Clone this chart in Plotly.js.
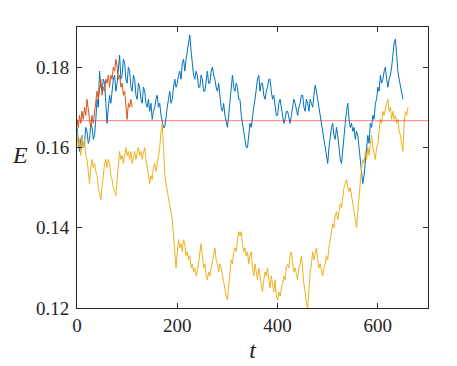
<!doctype html>
<html lang="en">
    <head>
        <meta charset="UTF-8" />
        <title>E vs t</title>
        <script src="https://cdn.plot.ly/plotly-3.0.1.min.js"></script>
        <style>
            body {
                margin: 0;
                background: white;
            }
        </style>
    </head>
    <body>
        <div id="chart"></div>

        <script>
            const dt = 2.5;

            const blueE = [
                0.165, 0.161, 0.159, 0.162, 0.163, 0.16, 0.161, 0.165, 0.164, 0.161,
                0.162, 0.166, 0.165, 0.162, 0.163, 0.167, 0.172, 0.17, 0.179, 0.175,
                0.174, 0.177, 0.176, 0.171, 0.166, 0.17, 0.173, 0.171, 0.175, 0.177,
                0.178, 0.174, 0.176, 0.18, 0.183, 0.177, 0.178, 0.182, 0.181, 0.177,
                0.176, 0.18, 0.179, 0.175, 0.174, 0.178, 0.177, 0.173, 0.172, 0.176,
                0.175, 0.172, 0.171, 0.175, 0.174, 0.171, 0.17, 0.172, 0.169, 0.171,
                0.167, 0.169, 0.17, 0.172, 0.173, 0.17, 0.171, 0.168, 0.166, 0.165,
                0.165, 0.168, 0.17, 0.172, 0.174, 0.171, 0.172, 0.175, 0.177, 0.175,
                0.176, 0.178, 0.179, 0.177, 0.181, 0.182, 0.179, 0.182, 0.184, 0.186,
                0.188, 0.184, 0.181, 0.178, 0.177, 0.179, 0.178, 0.175, 0.175, 0.178,
                0.177, 0.174, 0.174, 0.177, 0.179, 0.176, 0.176, 0.179, 0.18, 0.178,
                0.177, 0.175, 0.174, 0.176, 0.172, 0.17, 0.169, 0.171, 0.168, 0.166,
                0.165, 0.168, 0.171, 0.175, 0.178, 0.175, 0.174, 0.176, 0.175, 0.172,
                0.172, 0.168, 0.166, 0.164, 0.162, 0.16, 0.16, 0.164, 0.166, 0.165,
                0.168, 0.17, 0.172, 0.175, 0.177, 0.178, 0.174, 0.176, 0.176, 0.173,
                0.172, 0.174, 0.175, 0.177, 0.177, 0.174, 0.172, 0.173, 0.17, 0.168,
                0.168, 0.171, 0.172, 0.17, 0.169, 0.166, 0.167, 0.169, 0.169, 0.167,
                0.166, 0.168, 0.17, 0.172, 0.171, 0.169, 0.168, 0.17, 0.171, 0.173,
                0.173, 0.17, 0.169, 0.172, 0.171, 0.169, 0.172, 0.171, 0.17, 0.173,
                0.1755, 0.174, 0.172, 0.17, 0.169, 0.166, 0.164, 0.162, 0.161, 0.159,
                0.156, 0.16, 0.163, 0.165, 0.166, 0.163, 0.162, 0.165, 0.163, 0.16,
                0.157, 0.156, 0.16, 0.163, 0.166, 0.169, 0.171, 0.167, 0.165, 0.166,
                0.164, 0.165, 0.162, 0.164, 0.163, 0.16, 0.157, 0.155, 0.151, 0.153,
                0.156, 0.16, 0.163, 0.161, 0.166, 0.165, 0.168, 0.167, 0.171, 0.172,
                0.175, 0.174, 0.178, 0.176, 0.177, 0.179, 0.18, 0.177, 0.175, 0.177,
                0.178, 0.18, 0.183, 0.186, 0.187, 0.182, 0.179, 0.177, 0.175, 0.173,
                0.172,
            ];

            const orangeE = [
                0.167, 0.165, 0.168, 0.166, 0.169, 0.167, 0.17, 0.168, 0.172, 0.169,
                0.167, 0.165, 0.168, 0.166, 0.169, 0.171, 0.174, 0.172, 0.175, 0.177,
                0.173, 0.175, 0.174, 0.177, 0.176, 0.178, 0.175, 0.178, 0.177, 0.18,
                0.179, 0.182, 0.18, 0.177, 0.178, 0.175, 0.176, 0.173, 0.174, 0.171,
                0.167, 0.171, 0.17, 0.172, 0.17,
            ];

            const yellowE = [
                0.164, 0.16, 0.162, 0.158, 0.163, 0.16, 0.162, 0.158, 0.157, 0.154,
                0.151, 0.155, 0.157, 0.155, 0.156, 0.154, 0.153, 0.15, 0.148, 0.147,
                0.15, 0.154, 0.156, 0.157, 0.155, 0.157, 0.156, 0.153, 0.152, 0.15,
                0.149, 0.148, 0.152, 0.157, 0.159, 0.157, 0.158, 0.156, 0.158, 0.16,
                0.158, 0.159, 0.157, 0.159, 0.156, 0.158, 0.159, 0.157, 0.159, 0.16,
                0.158, 0.159, 0.157, 0.159, 0.16, 0.157, 0.155, 0.153, 0.151, 0.153,
                0.152, 0.155, 0.156, 0.154, 0.156, 0.158, 0.16, 0.164, 0.166, 0.16,
                0.153, 0.151, 0.149, 0.147, 0.146, 0.144, 0.142, 0.138, 0.134, 0.13,
                0.134, 0.137, 0.135, 0.136, 0.134, 0.137, 0.136, 0.133, 0.134, 0.132,
                0.133, 0.13, 0.131, 0.129, 0.13, 0.128, 0.129, 0.131, 0.133, 0.136,
                0.133, 0.13, 0.131, 0.128, 0.127, 0.129, 0.128, 0.13, 0.131, 0.133,
                0.135, 0.132, 0.131, 0.129, 0.131, 0.13, 0.128, 0.126, 0.125, 0.123,
                0.122, 0.125, 0.129, 0.132, 0.131, 0.134, 0.135, 0.134, 0.137, 0.139,
                0.138, 0.139, 0.136, 0.134, 0.135, 0.133, 0.134, 0.131, 0.133, 0.134,
                0.13, 0.128, 0.131, 0.129, 0.127, 0.13, 0.128, 0.126, 0.124, 0.127,
                0.129, 0.128, 0.13, 0.127, 0.125, 0.128, 0.126, 0.124, 0.127, 0.123,
                0.122, 0.124, 0.123, 0.125, 0.126, 0.128, 0.127, 0.13, 0.131, 0.13,
                0.133, 0.134, 0.131, 0.129, 0.13, 0.128, 0.127, 0.13, 0.131, 0.133,
                0.129, 0.126, 0.124, 0.121, 0.12, 0.125, 0.129, 0.131, 0.134, 0.132,
                0.134, 0.135, 0.132, 0.13, 0.131, 0.129, 0.128, 0.13, 0.131, 0.133,
                0.132, 0.135, 0.137, 0.139, 0.141, 0.14, 0.143, 0.144, 0.142, 0.144,
                0.146, 0.145, 0.148, 0.15, 0.151, 0.152, 0.15, 0.149, 0.15, 0.148,
                0.146, 0.143, 0.141, 0.14, 0.144, 0.148, 0.152, 0.155, 0.157, 0.156,
                0.159, 0.157, 0.16, 0.158, 0.161, 0.163, 0.16, 0.158, 0.157, 0.16,
                0.161, 0.164, 0.167, 0.166, 0.169, 0.168, 0.17, 0.171, 0.172, 0.169,
                0.17, 0.167, 0.169, 0.167, 0.168, 0.166, 0.167, 0.164, 0.163, 0.161,
                0.159, 0.166, 0.169, 0.168, 0.17,
            ];

            const refE = 1 / 6;
            const xTicks = [0, 200, 400, 600];
            const yTicks = [0.12, 0.14, 0.16, 0.18];

            function times(vals) {
                return vals.map((_, i) => i * dt);
            }

            const lineTrace = (vals, color) => ({
                x: times(vals),
                y: vals,
                type: "scatter",
                mode: "lines",
                line: { color: color, width: 1 },
                hoverinfo: "skip",
            });

            const traces = [
                lineTrace(blueE, "#0072BD"),
                lineTrace(orangeE, "#D95319"),
                lineTrace(yellowE, "#EDB120"),
                {
                    x: [0, 700],
                    y: [refE, refE],
                    type: "scatter",
                    mode: "lines",
                    line: { color: "rgba(255,0,0,0.5)", width: 1 },
                },
            ];

            const serif = "Liberation Serif, serif";

            const axisCommon = {
                showline: true,
                linecolor: "#262626",
                linewidth: 1,
                mirror: "allticks",
                ticks: "inside",
                ticklen: 5,
                tickcolor: "#262626",
                showgrid: false,
                zeroline: false,
                tickfont: { family: serif, size: 19, color: "#262626" },
            };

            const layout = {
                width: 457,
                height: 366,
                margin: { l: 77, r: 29, t: 27, b: 58 },
                showlegend: false,
                paper_bgcolor: "white",
                plot_bgcolor: "white",
                xaxis: Object.assign({}, axisCommon, {
                    range: [0, 700],
                    tickvals: xTicks,
                    title: {
                        text: "<i>t</i>",
                        font: { family: serif, size: 24, color: "#262626" },
                        standoff: 6,
                    },
                }),
                yaxis: Object.assign({}, axisCommon, {
                    range: [0.12, 0.19],
                    tickvals: yTicks,
                    tickformat: ".2f",
                    ticklabelstandoff: 3,
                }),
                annotations: [
                    {
                        text: "<i>E</i>",
                        xref: "paper",
                        yref: "paper",
                        x: -0.162,
                        y: 0.544,
                        xanchor: "center",
                        yanchor: "middle",
                        showarrow: false,
                        font: { family: serif, size: 24, color: "#262626" },
                    },
                ],
            };

            Plotly.newPlot("chart", traces, layout, { staticPlot: true });
        </script>
    </body>
</html>
